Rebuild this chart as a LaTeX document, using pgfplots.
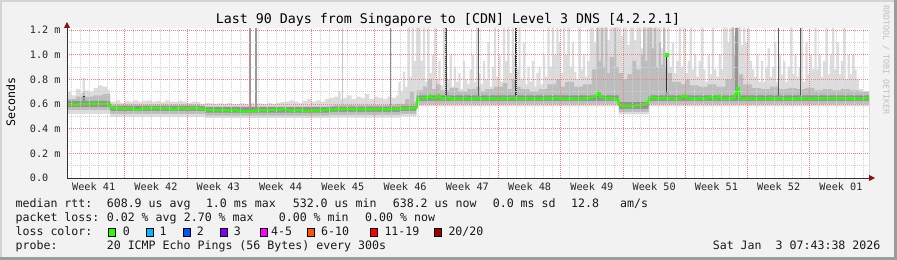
\documentclass[border=0pt]{standalone}
\usepackage{fontspec}
\setmainfont{DejaVu Sans Mono}
\usepackage{pgfplots}
\pgfplotsset{compat=1.18}
\usepackage{pgfplotstable}
\usetikzlibrary{arrows.meta}

\definecolor{bgc}{HTML}{F2F2F2}
\definecolor{shadeA}{HTML}{D4D4D4}
\definecolor{shadeB}{HTML}{9C9C9C}
\definecolor{mgrid}{RGB}{240,130,130}
\definecolor{ngrid}{RGB}{208,208,208}
\definecolor{arrred}{HTML}{8B1010}
\definecolor{smokeL}{HTML}{DCDCDC}
\definecolor{smokeM}{HTML}{BDBDBD}
\definecolor{smokeD}{HTML}{939393}
\definecolor{med}{HTML}{26FF00}
\definecolor{lc0}{HTML}{26FF00}
\definecolor{lc1}{HTML}{00B8FF}
\definecolor{lc2}{HTML}{0059FF}
\definecolor{lc3}{HTML}{7E00FF}
\definecolor{lc4}{HTML}{FF00FF}
\definecolor{lc6}{HTML}{FF5500}
\definecolor{lc11}{HTML}{FF0000}
\definecolor{lc20}{HTML}{A10000}

\pgfplotstableread{
x y
0 0.70
0.5 0.67
1.0 0.72
1.5 0.69
1.75 0.81
2.0 0.71
2.5 0.70
3.0 0.73
3.5 0.75
4.0 0.74
4.5 0.71
4.85 0.62
5.5 0.63
6.0 0.61
6.5 0.625
7.0 0.62
7.5 0.63
8.0 0.615
8.5 0.625
9.0 0.63
9.5 0.62
10.0 0.625
10.5 0.615
11.0 0.63
11.5 0.62
12.0 0.615
12.5 0.625
13.0 0.62
13.5 0.61
14.0 0.62
14.5 0.615
15.0 0.60
15.5 0.61
16.0 0.605
16.5 0.60
17.0 0.605
17.5 0.60
18.0 0.61
18.5 0.60
19.0 0.60
19.5 0.605
20.0 0.60
20.5 0.61
21.0 0.60
21.5 0.605
22.0 0.60
22.5 0.61
23.0 0.60
23.5 0.61
24.0 0.615
24.5 0.62
25.0 0.63
25.5 0.62
26.0 0.61
26.5 0.625
27.0 0.64
27.5 0.62
28.0 0.63
28.5 0.62
29.0 0.64
29.5 0.65
30.0 0.66
30.5 0.70
30.75 0.64
31.0 0.65
31.5 0.67
32.0 0.64
32.5 0.66
33.0 0.65
33.5 0.68
34.0 0.64
34.5 0.66
35.0 0.65
35.5 0.64
36.0 0.66
36.5 0.65
37.0 0.67
37.25 0.78
37.5 0.70
37.75 0.86
38.0 0.74
38.25 1.22
38.5 0.82
38.75 1.22
39.0 0.95
39.25 1.22
39.5 1.22
39.75 0.95
40.0 1.22
40.25 0.78
40.5 1.22
40.75 0.85
41.0 1.0
41.25 1.22
41.5 0.80
41.75 0.95
42.0 0.75
42.25 1.22
42.5 0.85
42.75 0.80
43.0 1.0
43.25 0.74
43.5 0.90
43.75 0.78
44.0 0.85
44.25 0.72
44.5 0.95
44.75 0.80
45.0 0.76
45.25 0.88
45.5 1.0
45.75 0.78
46.0 1.22
46.25 0.85
46.5 0.76
46.75 0.95
47.0 0.80
47.25 1.1
47.5 0.74
47.75 0.90
48.0 1.22
48.25 0.82
48.5 1.0
48.75 0.78
49.0 1.22
49.25 0.95
49.5 1.22
49.75 0.85
50.0 1.22
50.25 1.0
50.5 0.88
50.75 1.22
51.0 0.80
51.25 1.1
51.5 0.76
51.75 0.90
52.0 0.78
52.25 0.95
52.5 0.74
52.75 0.85
53.0 0.90
53.25 0.76
53.5 1.0
53.75 0.82
54.0 1.22
54.25 0.90
54.5 1.22
54.75 1.0
55.0 1.22
55.25 1.1
55.5 0.85
55.75 1.22
56.0 1.0
56.25 1.22
56.5 0.90
56.75 1.1
57.0 0.86
57.25 0.80
57.5 1.22
57.75 0.88
58.0 1.0
58.25 0.82
58.5 0.95
58.75 1.22
59.25 1.1
59.5 1.22
60.0 1.05
60.25 1.22
60.75 1.12
61.0 1.22
61.5 1.0
61.75 1.22
62.25 1.15
62.5 1.22
63.0 1.08
63.25 1.22
63.75 1.12
64.0 1.22
64.5 1.05
64.75 1.22
65.25 1.15
65.5 1.22
66.0 1.1
66.25 1.22
66.75 1.05
67.0 1.22
67.25 1.0
67.5 1.22
67.75 0.90
68.0 1.1
68.25 0.85
68.5 0.95
68.75 1.22
69.0 0.90
69.25 1.22
69.5 0.85
69.75 0.95
70.0 1.22
70.25 0.88
70.5 1.0
70.75 0.82
71.0 0.95
71.25 1.22
71.5 0.88
71.75 0.78
72.0 1.0
72.25 0.84
72.5 1.22
72.75 0.88
73.0 0.82
73.25 1.0
73.5 0.88
73.75 1.22
74.25 1.1
74.5 1.22
75.0 1.15
75.25 1.22
75.75 1.08
76.0 1.22
76.25 1.1
76.5 1.22
76.75 0.95
77.0 0.88
77.25 0.82
77.5 1.0
77.75 0.78
78.0 0.95
78.25 0.78
78.5 0.90
78.75 1.05
79.0 0.82
79.25 0.90
79.5 1.1
79.75 0.78
80.0 1.0
80.25 0.84
80.5 0.95
80.75 0.78
81.0 0.90
81.25 1.22
81.5 0.84
81.75 1.0
82.0 0.82
82.25 0.90
82.5 1.22
82.75 0.78
83.0 1.1
83.25 0.84
83.5 1.0
83.75 0.88
84.0 1.22
84.25 0.88
84.5 1.0
84.75 0.82
85.0 0.95
85.25 1.22
85.5 0.84
85.75 1.0
86.0 1.22
86.25 0.88
86.5 1.1
86.75 0.84
87.0 0.95
87.25 1.22
87.5 0.80
87.75 1.0
88.0 0.84
88.25 1.0
88.5 0.88
88.75 0.80
89.0 0.72
89.5 0.70
90.15 0.70
}\lighttop

\pgfplotstableread{
x y
0 0.64
1.0 0.66
1.75 0.70
2.0 0.66
3.0 0.67
4.0 0.68
4.85 0.595
15.0 0.58
30.0 0.59
37.0 0.60
38.0 0.64
38.5 0.70
39.0 0.62
39.3 0.71
40.0 0.74
40.5 0.80
41.0 0.72
41.5 0.76
42.0 0.71
43.0 0.73
44.0 0.70
45.0 0.72
46.0 0.74
46.5 0.70
47.0 0.72
48.0 0.74
49.0 0.77
49.5 0.72
50.0 0.80
50.5 0.74
51.0 0.72
52.0 0.70
53.0 0.72
54.0 0.76
55.0 0.80
55.5 0.74
56.0 0.78
57.0 0.74
58.0 0.76
59.0 0.88
59.5 1.22
59.75 0.95
60.0 1.22
60.25 0.90
60.5 1.22
60.75 0.85
61.0 0.98
61.5 1.22
61.75 0.90
62.0 0.85
62.5 0.80
63.0 0.84
63.5 0.95
64.0 0.88
64.5 1.0
64.75 1.22
65.0 0.95
65.25 1.22
65.75 1.05
66.0 1.22
66.25 0.90
66.5 1.1
66.75 0.92
67.0 1.22
67.25 0.90
67.5 0.85
68.0 0.78
69.0 0.76
69.5 0.80
70.0 0.75
71.0 0.74
72.0 0.76
73.0 0.74
74.0 0.80
74.75 1.22
75.0 1.0
75.25 1.22
75.5 0.84
76.0 0.76
77.0 0.73
78.0 0.72
79.0 0.74
80.0 0.72
81.0 0.73
82.0 0.72
83.0 0.73
84.0 0.71
85.0 0.72
86.0 0.71
87.0 0.72
88.0 0.71
89.0 0.70
90.15 0.70
}\midtop

\pgfplotstableread{
x y
0 0.625
1.75 0.66
2.0 0.625
4.85 0.585
15.5 0.575
29.5 0.578
37.5 0.585
39.3 0.67
59.5 0.69
60.0 0.67
62.0 0.615
65.4 0.67
67.3 0.70
67.6 0.67
90.15 0.67
}\darktop

\pgfplotstableread{
x y
0 0.575
4.85 0.545
15.5 0.53
29.5 0.537
37.5 0.545
39.3 0.625
62.0 0.56
65.4 0.625
90.15 0.625
}\darkbot

\pgfplotstableread{
x y
0 0.55
4.85 0.52
15.5 0.505
29.5 0.512
37.5 0.52
39.3 0.60
62.0 0.535
65.4 0.60
90.15 0.60
}\midbot

\pgfplotstableread{
x y
0 0.52
4.85 0.495
15.5 0.485
29.5 0.49
37.5 0.50
39.3 0.58
62.0 0.515
65.4 0.58
90.15 0.58
}\lightbot

\pgfplotstableread{
x y
0 0.595
0.5 0.600
1.0 0.590
1.5 0.600
1.9 0.598
2.5 0.600
3.0 0.605
3.5 0.598
4.0 0.604
4.5 0.600
4.8 0.598
4.9 0.572
5.5 0.568
6.0 0.565
6.5 0.562
7.0 0.566
7.5 0.560
8.0 0.552
8.5 0.565
9.0 0.563
9.5 0.566
10.0 0.570
10.5 0.562
11.0 0.566
11.5 0.565
12.0 0.556
12.5 0.566
13.0 0.565
13.5 0.560
14.0 0.566
14.5 0.568
15.0 0.564
15.5 0.556
16.0 0.552
16.5 0.553
17.0 0.548
17.5 0.553
18.0 0.550
18.5 0.545
19.0 0.552
19.5 0.540
20.0 0.540
20.5 0.542
21.0 0.545
21.5 0.548
22.0 0.552
22.5 0.550
23.0 0.553
23.5 0.552
24.0 0.555
24.5 0.562
25.0 0.548
25.5 0.545
26.0 0.550
26.5 0.548
27.0 0.542
27.5 0.545
28.0 0.550
28.5 0.545
29.0 0.552
29.5 0.558
30.0 0.555
30.5 0.560
31.0 0.556
31.5 0.560
32.0 0.558
32.5 0.555
33.0 0.558
33.5 0.557
34.0 0.556
34.5 0.558
35.0 0.560
35.5 0.556
36.0 0.556
36.5 0.558
37.0 0.562
37.5 0.560
38.0 0.565
38.5 0.566
39.0 0.568
39.3 0.568
39.4 0.642
40.0 0.645
40.5 0.652
40.75 0.668
41.0 0.645
41.5 0.650
41.75 0.675
42.0 0.642
42.5 0.648
43.0 0.655
43.25 0.638
43.5 0.645
44.0 0.642
44.5 0.648
45.0 0.645
45.5 0.640
46.0 0.646
46.5 0.645
47.0 0.643
47.5 0.648
48.0 0.645
48.5 0.640
49.0 0.646
49.5 0.645
50.0 0.650
50.5 0.646
51.0 0.641
51.5 0.648
52.0 0.644
52.5 0.645
53.0 0.640
53.5 0.647
54.0 0.645
54.5 0.643
55.0 0.648
55.5 0.645
56.0 0.642
56.5 0.646
57.0 0.644
57.5 0.640
58.0 0.645
58.5 0.650
59.0 0.652
59.5 0.668
59.75 0.695
60.0 0.655
60.5 0.648
61.0 0.645
61.5 0.642
61.9 0.640
62.1 0.590
62.5 0.582
63.0 0.585
63.5 0.580
64.0 0.588
64.5 0.592
65.0 0.598
65.3 0.602
65.5 0.660
65.75 0.650
66.0 0.648
66.5 0.645
67.0 0.648
67.3 0.646
67.6 0.645
68.0 0.645
68.5 0.643
69.0 0.648
69.5 0.672
69.7 0.646
70.0 0.645
70.5 0.642
71.0 0.646
71.5 0.645
72.0 0.645
72.5 0.665
72.7 0.645
73.0 0.643
73.4 0.668
73.6 0.645
74.0 0.642
74.5 0.645
75.0 0.648
75.4 0.730
75.6 0.650
76.0 0.642
76.5 0.645
77.0 0.646
77.5 0.643
78.0 0.645
78.5 0.644
79.0 0.646
79.5 0.643
80.0 0.645
80.5 0.648
81.0 0.642
81.5 0.645
82.0 0.643
82.5 0.646
83.0 0.645
83.5 0.643
84.0 0.645
84.5 0.647
85.0 0.646
85.5 0.648
86.0 0.646
86.5 0.644
87.0 0.647
87.5 0.646
88.0 0.645
88.5 0.645
89.0 0.644
89.5 0.645
90.15 0.645
}\median

\newcommand{\lgf}{\fontsize{11.6bp}{14bp}\selectfont}

\begin{document}
\begin{tikzpicture}
\useasboundingbox (0,0) rectangle (897bp,260bp);
\fill[bgc] (0,0) rectangle (897bp,260bp);
\fill[shadeA] (0,0) rectangle (2bp,260bp);
\fill[shadeA] (0,258bp) rectangle (897bp,260bp);
\fill[shadeB] (894bp,0) rectangle (897bp,260bp);
\fill[shadeB] (0,0) rectangle (897bp,3bp);

\begin{axis}[
  at={(67bp,82bp)}, anchor=south west,
  scale only axis, width=802bp, height=150bp,
  xmin=0, xmax=90.15, ymin=0, ymax=1.2162,
  axis on top,
  axis background/.style={fill=white},
  axis x line=bottom, axis y line=left,
  every outer x axis line/.append style={draw=black!80, line width=0.8bp, -{Triangle[length=6bp,width=6bp,color=arrred,fill=arrred]}, shorten >=-6bp},
  every outer y axis line/.append style={draw=black!80, line width=0.8bp, -{Triangle[length=6bp,width=6bp,color=arrred,fill=arrred]}, shorten >=-6bp},
  xtick={3,10,17,24,31,38,45,52,59,66,73,80,87},
  xticklabels={Week 41,Week 42,Week 43,Week 44,Week 45,Week 46,Week 47,Week 48,Week 49,Week 50,Week 51,Week 52,Week 01},
  ytick={0,0.2,0.4,0.6,0.8,1.0,1.2},
  yticklabels={0.0,0.2 m,0.4 m,0.6 m,0.8 m,1.0 m,1.2 m},
  tick label style={font=\fontsize{10.2bp}{12bp}\selectfont, text=black!85},
  xticklabel style={anchor=base, inner sep=0pt, yshift=-12.5bp},
  yticklabel style={anchor=west, inner sep=0pt, xshift=-37.3bp},
  major tick length=0pt, minor tick length=0pt,
  ymajorgrids=true, yminorgrids=true, xminorgrids=true,
  minor y tick num=1,
  minor xtick={0.5,1.5,...,89.5},
  extra x ticks={6.5,13.5,20.5,27.5,34.5,41.5,48.5,55.5,62.5,69.5,76.5,83.5},
  extra x tick labels={},
  extra x tick style={grid=major, major tick length=0pt},
  major grid style={draw=mgrid, dash pattern=on 1bp off 1bp, line width=0.7bp},
  minor grid style={draw=ngrid, dash pattern=on 1bp off 1bp, line width=0.7bp},
]
\addplot[const plot, fill=smokeL, draw=none] table {\lighttop} \closedcycle;
\addplot[const plot, fill=smokeM, draw=none] table {\midtop} \closedcycle;
\addplot[ycomb, draw=black!40, line width=2.2bp] coordinates {(20.6,1.22) (21.25,1.22)};
\addplot[ycomb, draw=black!22, line width=0.8bp] coordinates {(31.0,1.22)};
\addplot[ycomb, draw=black!45, line width=1bp] coordinates {(36.4,1.22)};
\addplot[ycomb, draw=black!72, line width=1.3bp] coordinates {(42.6,1.22)};
\addplot[ycomb, draw=black!65, line width=1bp] coordinates {(46.3,1.22) (80.0,1.22) (82.5,1.22)};
\addplot[ycomb, draw=black!82, line width=1.8bp] coordinates {(50.5,1.22)};
\addplot[ycomb, draw=black!42, line width=3bp] coordinates {(75.3,1.22)};
\addplot[ycomb, draw=black!82, line width=1.5bp] coordinates {(67.4,1.0)};
\addplot[ycomb, draw=black, line width=1.5bp] coordinates {(1.9,0.665)};
\addplot[const plot, fill=smokeD, draw=none] table {\darktop} \closedcycle;
\addplot[const plot, fill=smokeM, draw=none] table {\darkbot} \closedcycle;
\addplot[const plot, fill=smokeL, draw=none] table {\midbot} \closedcycle;
\addplot[const plot, fill=white, draw=none] table {\lightbot} \closedcycle;
\addplot[draw=med, line width=2.4bp, line join=round] table {\median};
\addplot[only marks, mark=square*, mark size=1.1bp, draw=med, fill=med] coordinates {(67.4,1.0) (75.4,0.73)};
\end{axis}

% title
\node[anchor=base, inner sep=0pt] at (448bp,236bp) {\fontsize{13.3bp}{16bp}\selectfont Last 90 Days from Singapore to [CDN] Level 3 DNS [4.2.2.1]};
% y label
\node[rotate=90, inner sep=0pt] at (10.7bp,158bp) {\lgf Seconds};
% watermark
\node[rotate=-90, inner sep=0pt, text=black!25] at (886bp,200bp) {\fontsize{8.3bp}{10bp}\selectfont RRDTOOL / TOBI OETIKER};

% legend rows
\begin{scope}[every node/.style={anchor=base west, inner sep=0pt, text=black!90}]
\node at (15.4bp,52.3bp) {\lgf median rtt:};
\node at (106.6bp,52.3bp) {\lgf 608.9 us avg};
\node at (205.8bp,52.3bp) {\lgf 1.0 ms max};
\node at (292.6bp,52.3bp) {\lgf 532.0 us min};
\node at (392.6bp,52.3bp) {\lgf 638.2 us now};
\node at (492.6bp,52.3bp) {\lgf 0.0 ms sd};
\node at (571bp,52.3bp) {\lgf 12.8};
\node at (620bp,52.3bp) {\lgf am/s};

\node at (15.4bp,38.3bp) {\lgf packet loss:};
\node at (106.6bp,38.3bp) {\lgf 0.02 \% avg};
\node at (183.6bp,38.3bp) {\lgf 2.70 \% max};
\node at (278.6bp,38.3bp) {\lgf 0.00 \% min};
\node at (365bp,38.3bp) {\lgf 0.00 \% now};

\node at (15.4bp,24.3bp) {\lgf loss color:};
\node at (122.6bp,24.3bp) {\lgf 0};
\node at (159.3bp,24.3bp) {\lgf 1};
\node at (196.6bp,24.3bp) {\lgf 2};
\node at (233.6bp,24.3bp) {\lgf 3};
\node at (271bp,24.3bp) {\lgf 4-5};
\node at (321bp,24.3bp) {\lgf 6-10};
\node at (384.3bp,24.3bp) {\lgf 11-19};
\node at (448.3bp,24.3bp) {\lgf 20/20};

\node at (15.4bp,10.3bp) {\lgf probe:};
\node at (106.6bp,10.3bp) {\lgf 20 ICMP Echo Pings (56 Bytes) every 300s};
\end{scope}
\node[anchor=base east, inner sep=0pt, text=black!90] at (880.6bp,10.3bp) {\lgf Sat Jan~~3 07:43:38 2026};

% loss color boxes
\foreach \c/\xx in {lc0/108,lc1/146,lc2/183,lc3/220,lc4/260,lc6/307,lc11/370,lc20/434}{
  \filldraw[fill=\c, draw=black, line width=0.6bp] (\xx bp,24bp) rectangle ++(7.3bp,7.3bp);
}
\end{tikzpicture}
\end{document}
